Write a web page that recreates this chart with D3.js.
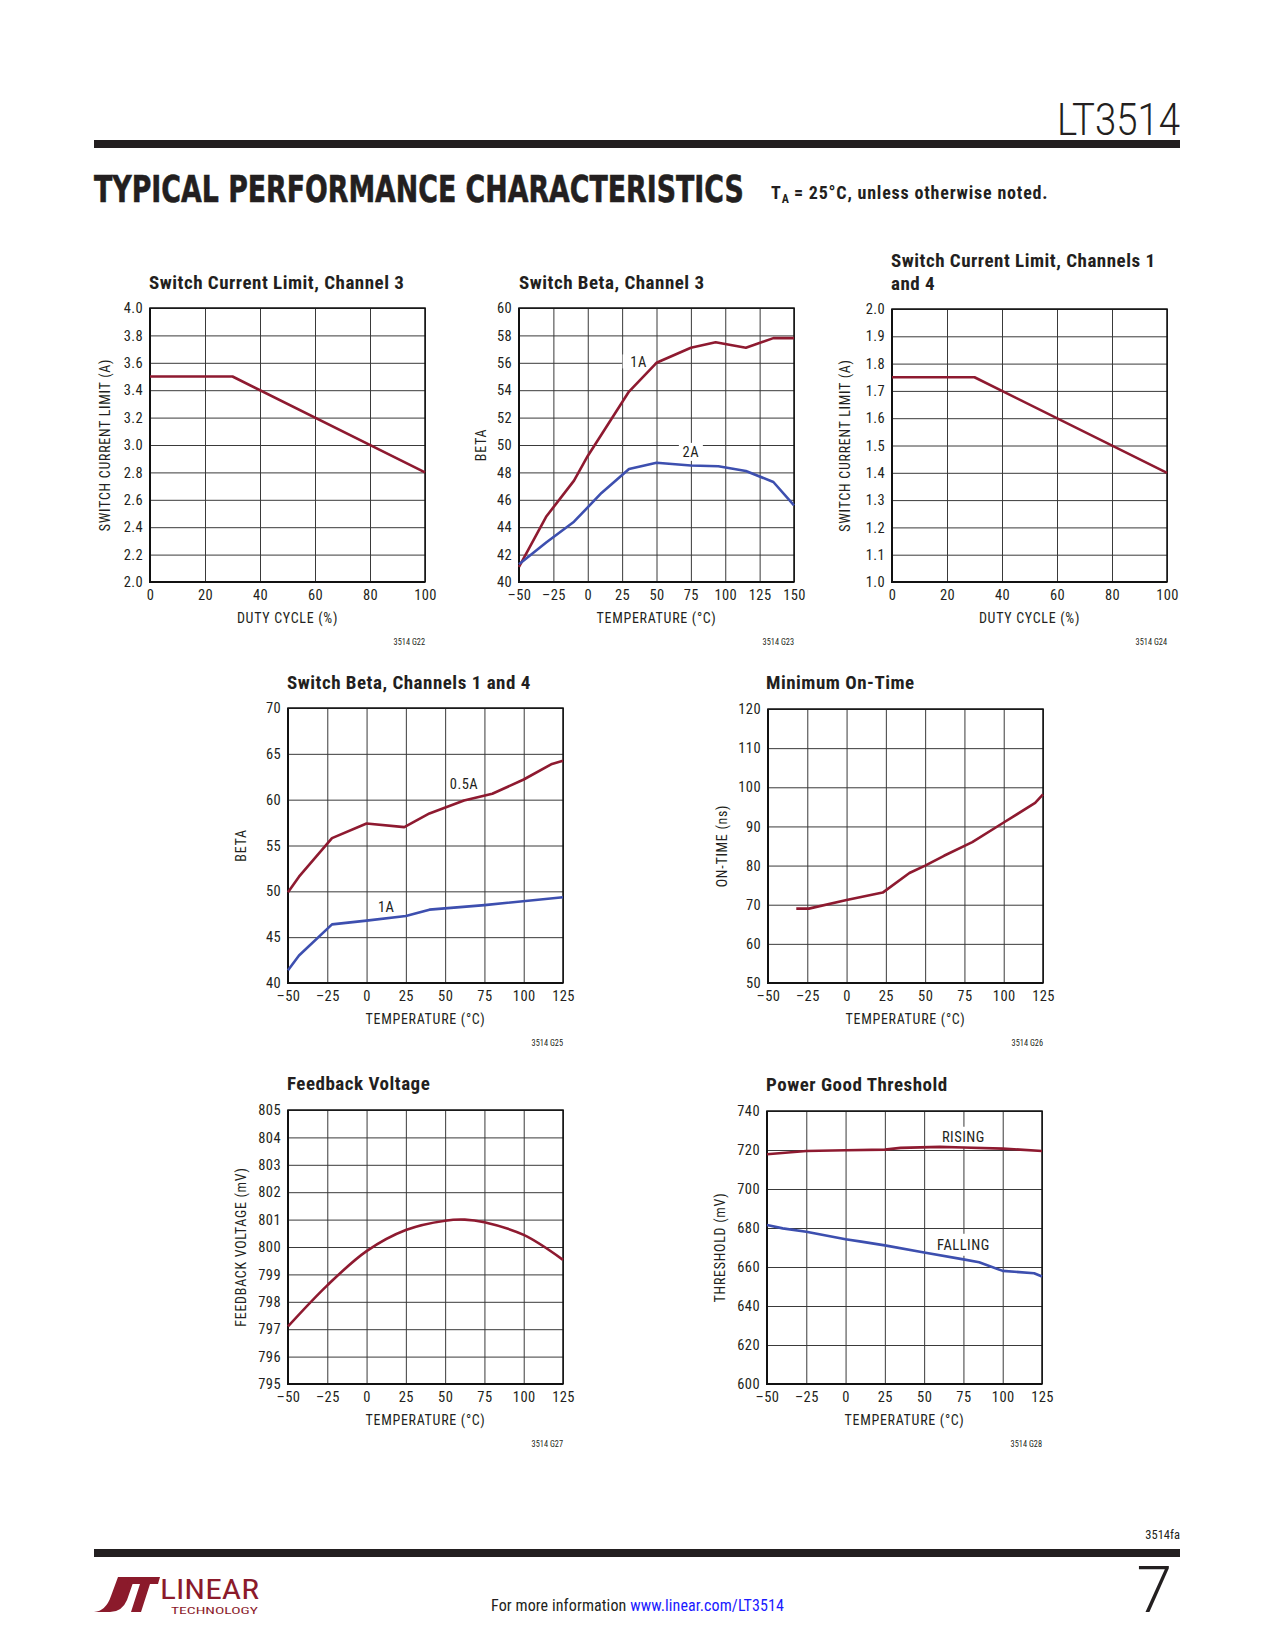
<!DOCTYPE html>
<html><head><meta charset="utf-8">
<script src="https://cdn.jsdelivr.net/npm/d3@7"></script>
<style>
body{margin:0;background:#fff;}
svg{display:block;}
</style></head><body>
<svg id="page" width="1275" height="1650"></svg>
<script>
// ---------------- DATA ----------------
const dutyTicks = [0, 20, 40, 60, 80, 100];
const tempTicksTo150 = [-50, -25, 0, 25, 50, 75, 100, 125, 150];
const tempTicks = [-50, -25, 0, 25, 50, 75, 100, 125];

const ch3LimitTicks = [2.0, 2.2, 2.4, 2.6, 2.8, 3.0, 3.2, 3.4, 3.6, 3.8, 4.0];
const ch3LimitDuty = [0, 30, 100];
const ch3LimitAmps = [3.5, 3.5, 2.8];

const ch3BetaTicks = [40, 42, 44, 46, 48, 50, 52, 54, 56, 58, 60];
const ch3Beta1ATemp = [-50, -30, -10, 0, 30, 50, 75, 93, 115, 135, 150];
const ch3Beta1A = [41.1, 44.8, 47.4, 49.2, 53.9, 56.0, 57.1, 57.5, 57.1, 57.8, 57.8];
const ch3Beta2ATemp = [-50, -30, -10, 10, 30, 50, 75, 95, 115, 135, 150];
const ch3Beta2A = [41.3, 42.9, 44.4, 46.5, 48.25, 48.7, 48.5, 48.45, 48.1, 47.3, 45.6];

const ch14LimitTicks = [1.0, 1.1, 1.2, 1.3, 1.4, 1.5, 1.6, 1.7, 1.8, 1.9, 2.0];
const ch14LimitDuty = [0, 30, 100];
const ch14LimitAmps = [1.75, 1.75, 1.4];

const ch14BetaTicks = [40, 45, 50, 55, 60, 65, 70];
const ch14Beta05ATemp = [-50, -43, -22, 0, 24, 40, 62, 80, 100, 118, 125];
const ch14Beta05A = [49.9, 51.6, 55.8, 57.4, 57.0, 58.5, 59.9, 60.65, 62.2, 63.9, 64.25];
const ch14Beta1ATemp = [-50, -43, -22, 0, 25, 40, 75, 125];
const ch14Beta1A = [41.4, 43.0, 46.4, 46.8, 47.3, 48.0, 48.5, 49.35];

const onTimeTicks = [50, 60, 70, 80, 90, 100, 110, 120];
const onTimeTemp = [-32, -24, 0, 23, 40, 50, 62, 80, 100, 120, 125];
const onTimeNs = [69, 69, 71.2, 73.1, 78.1, 80, 82.5, 86, 91, 96, 98.2];

const fbTicks = [795, 796, 797, 798, 799, 800, 801, 802, 803, 804, 805];
const fbTemp = [-50, -25, 0, 25, 50, 62.5, 75, 100, 125];
const fbMv = [797.1, 798.6, 799.85, 800.62, 800.96, 801.0, 800.9, 800.44, 799.53];

const pgTicks = [600, 620, 640, 660, 680, 700, 720, 740];
const pgRisingTemp = [-50, -25, 0, 25, 35, 60, 75, 100, 125];
const pgRisingMv = [717.8, 719.5, 719.9, 720.2, 721.1, 721.6, 721.3, 720.7, 719.5];
const pgFallingTemp = [-50, -40, -25, 0, 10, 25, 50, 75, 85, 100, 120, 125];
const pgFallingMv = [681.5, 679.8, 678.1, 674.2, 673, 671.1, 667.4, 663.9, 662.4, 658, 656.8, 655.1];

// ---------------- STYLE ----------------
const NARROW = "'Liberation Sans Narrow','Arial Narrow','Roboto Condensed','DejaVu Sans Condensed',sans-serif";
const RED = "#8e1a30";
const BLUE = "#3d4faf";
const GRID = "#3a3a3a";
const TXT = "#231f20";

const svg = d3.select("#page");
const dash = v => String(v).replace("-", "\u2013");

function drawChart(c) {
  const g = svg.append("g");
  const x = d3.scaleLinear().domain(c.xDomain).range([c.x0, c.x0 + c.w]);
  const y = d3.scaleLinear().domain(c.yDomain).range([c.y0 + c.h, c.y0]);

  // grid
  g.append("g").attr("transform", `translate(0,${c.y0 + c.h})`)
    .call(d3.axisBottom(x).tickValues(c.xTicks).tickSize(-c.h).tickFormat(""))
    .call(s => s.select(".domain").remove())
    .call(s => s.selectAll("line").attr("stroke", GRID).attr("stroke-width", 1));
  g.append("g").attr("transform", `translate(${c.x0},0)`)
    .call(d3.axisLeft(y).tickValues(c.yTicks).tickSize(-c.w).tickFormat(""))
    .call(s => s.select(".domain").remove())
    .call(s => s.selectAll("line").attr("stroke", GRID).attr("stroke-width", 1));

  // label boxes (white) drawn over grid
  (c.labels || []).forEach(l => {
    if (l.box) {
      g.append("rect")
        .attr("x", x(l.x) - l.bw / 2).attr("y", y(l.y) - l.bh / 2)
        .attr("width", l.bw).attr("height", l.bh).attr("fill", "#fff");
    }
  });

  // frame
  g.append("rect").attr("x", c.x0).attr("y", c.y0).attr("width", c.w).attr("height", c.h)
    .attr("fill", "none").attr("stroke", "#111").attr("stroke-width", 1.5);
  g.append("path").attr("d", `M${c.x0},${c.y0}V${c.y0 + c.h}H${c.x0 + c.w}`)
    .attr("fill", "none").attr("stroke", "#111").attr("stroke-width", 2);

  // tick labels
  const ax = g.append("g").attr("transform", `translate(0,${c.y0 + c.h})`)
    .call(d3.axisBottom(x).tickValues(c.xTicks).tickSize(0).tickPadding(8).tickFormat(c.xFmt || dash));
  const ay = g.append("g").attr("transform", `translate(${c.x0},0)`)
    .call(d3.axisLeft(y).tickValues(c.yTicks).tickSize(0).tickPadding(7).tickFormat(c.yFmt || dash));
  [ax, ay].forEach(a => {
    a.select(".domain").remove();
    a.selectAll("text").attr("font-family", NARROW).attr("font-size", 14.5)
      .attr("letter-spacing", 0.4).attr("fill", TXT);
  });

  // series
  c.series.forEach(s => {
    const pts = s.xs.map((v, i) => [v, s.ys[i]]);
    g.append("path").datum(pts)
      .attr("d", d3.line().x(d => x(d[0])).y(d => y(d[1])).curve(s.curve || d3.curveLinear))
      .attr("fill", "none").attr("stroke", s.color).attr("stroke-width", 2.6)
      .attr("stroke-linejoin", "round").attr("stroke-linecap", "butt");
  });

  // series labels
  (c.labels || []).forEach(l => {
    g.append("text").attr("x", x(l.x)).attr("y", y(l.y)).attr("dy", "0.35em")
      .attr("text-anchor", "middle").attr("font-family", NARROW).attr("font-size", 14.5)
      .attr("letter-spacing", 0.5).attr("fill", TXT).text(l.text);
  });

  // title
  c.title.forEach((line, i) => g.append("text").attr("x", c.titleX).attr("y", c.titleY + i * 22.5)
    .attr("font-family", NARROW).attr("font-weight", "bold").attr("font-size", 19)
    .attr("letter-spacing", 0.5).attr("fill", TXT).text(line));

  // axis titles
  g.append("text").attr("x", c.x0 + c.w / 2).attr("y", c.y0 + c.h + 41)
    .attr("text-anchor", "middle").attr("font-family", NARROW).attr("font-size", 14)
    .attr("letter-spacing", 0.7).attr("fill", TXT).text(c.xLabel);
  g.append("text").attr("transform", `translate(${c.yLabelX},${c.y0 + c.h / 2}) rotate(-90)`)
    .attr("text-anchor", "middle").attr("font-family", NARROW).attr("font-size", 14)
    .attr("letter-spacing", 0.7).attr("fill", TXT).text(c.yLabel);

  // figure id
  g.append("text").attr("x", c.x0 + c.w).attr("y", c.y0 + c.h + 63)
    .attr("text-anchor", "end").attr("font-family", NARROW).attr("font-size", 8.3)
    .attr("fill", TXT).text(c.id);
}

const fmt1 = d => d3.format(".1f")(d);

drawChart({
  x0: 150, y0: 308, w: 275, h: 274, xDomain: [0, 100], yDomain: [2, 4],
  xTicks: dutyTicks, yTicks: ch3LimitTicks, yFmt: fmt1,
  title: ["Switch Current Limit, Channel 3"], titleX: 149, titleY: 289,
  xLabel: "DUTY CYCLE (%)", yLabel: "SWITCH CURRENT LIMIT (A)", yLabelX: 110, id: "3514 G22",
  series: [{ xs: ch3LimitDuty, ys: ch3LimitAmps, color: RED }]
});

drawChart({
  x0: 519, y0: 308, w: 275, h: 274, xDomain: [-50, 150], yDomain: [40, 60],
  xTicks: tempTicksTo150, yTicks: ch3BetaTicks,
  title: ["Switch Beta, Channel 3"], titleX: 519, titleY: 289,
  xLabel: "TEMPERATURE (°C)", yLabel: "BETA", yLabelX: 486, id: "3514 G23",
  series: [
    { xs: ch3Beta1ATemp, ys: ch3Beta1A, color: RED },
    { xs: ch3Beta2ATemp, ys: ch3Beta2A, color: BLUE }
  ],
  labels: [
    { text: "1A", x: 37, y: 56.1, box: true, bw: 32, bh: 14 },
    { text: "2A", x: 75, y: 49.5, box: true, bw: 24, bh: 18 }
  ]
});

drawChart({
  x0: 892, y0: 309, w: 275, h: 273, xDomain: [0, 100], yDomain: [1, 2],
  xTicks: dutyTicks, yTicks: ch14LimitTicks, yFmt: fmt1,
  title: ["Switch Current Limit, Channels 1", "and 4"], titleX: 891, titleY: 267,
  xLabel: "DUTY CYCLE (%)", yLabel: "SWITCH CURRENT LIMIT (A)", yLabelX: 850, id: "3514 G24",
  series: [{ xs: ch14LimitDuty, ys: ch14LimitAmps, color: RED }]
});

drawChart({
  x0: 288, y0: 708, w: 275, h: 275, xDomain: [-50, 125], yDomain: [40, 70],
  xTicks: tempTicks, yTicks: ch14BetaTicks,
  title: ["Switch Beta, Channels 1 and 4"], titleX: 287, titleY: 689,
  xLabel: "TEMPERATURE (°C)", yLabel: "BETA", yLabelX: 246, id: "3514 G25",
  series: [
    { xs: ch14Beta05ATemp, ys: ch14Beta05A, color: RED },
    { xs: ch14Beta1ATemp, ys: ch14Beta1A, color: BLUE }
  ],
  labels: [
    { text: "0.5A", x: 62, y: 61.7 },
    { text: "1A", x: 12.5, y: 48.3 }
  ]
});

drawChart({
  x0: 768, y0: 709, w: 275, h: 274, xDomain: [-50, 125], yDomain: [50, 120],
  xTicks: tempTicks, yTicks: onTimeTicks,
  title: ["Minimum On-Time"], titleX: 766, titleY: 689,
  xLabel: "TEMPERATURE (°C)", yLabel: "ON-TIME (ns)", yLabelX: 727, id: "3514 G26",
  series: [{ xs: onTimeTemp, ys: onTimeNs, color: RED }]
});

drawChart({
  x0: 288, y0: 1110, w: 275, h: 274, xDomain: [-50, 125], yDomain: [795, 805],
  xTicks: tempTicks, yTicks: fbTicks,
  title: ["Feedback Voltage"], titleX: 287, titleY: 1090,
  xLabel: "TEMPERATURE (°C)", yLabel: "FEEDBACK VOLTAGE (mV)", yLabelX: 246, id: "3514 G27",
  series: [{ xs: fbTemp, ys: fbMv, color: RED, curve: d3.curveCatmullRom }]
});

drawChart({
  x0: 767, y0: 1111, w: 275, h: 273, xDomain: [-50, 125], yDomain: [600, 740],
  xTicks: tempTicks, yTicks: pgTicks,
  title: ["Power Good Threshold"], titleX: 766, titleY: 1091,
  xLabel: "TEMPERATURE (°C)", yLabel: "THRESHOLD (mV)", yLabelX: 725, id: "3514 G28",
  series: [
    { xs: pgRisingTemp, ys: pgRisingMv, color: RED },
    { xs: pgFallingTemp, ys: pgFallingMv, color: BLUE }
  ],
  labels: [
    { text: "RISING", x: 75, y: 726.8, box: true, bw: 52, bh: 20 },
    { text: "FALLING", x: 75, y: 671.4, box: true, bw: 60, bh: 22 }
  ]
});

// ---------------- PAGE HEADER ----------------
svg.append("text").attr("x", 1180).attr("y", 135).attr("text-anchor", "end")
  .attr("font-family", "Roboto,sans-serif").attr("font-weight", 300).attr("font-size", 44)
  .attr("textLength", 123).attr("lengthAdjust", "spacingAndGlyphs").attr("fill", TXT).text("LT3514");
svg.append("rect").attr("x", 94).attr("y", 140).attr("width", 1086).attr("height", 8).attr("fill", TXT);

// heading: condensed by a horizontal scale so its real box ends at x=744
const head = svg.append("text").attr("x", 0).attr("y", 0)
  .attr("font-family", "'DejaVu Sans',sans-serif").attr("font-weight", "bold").attr("font-size", 37)
  .attr("fill", TXT).attr("stroke", TXT).attr("stroke-width", 0.6)
  .text("TYPICAL PERFORMANCE CHARACTERISTICS");
const headW = head.node().getComputedTextLength();
head.attr("transform", `translate(94,202) scale(${650 / headW},1)`);

// T_A note as separate, non-overlapping text pieces
const tT = svg.append("text").attr("x", 771).attr("y", 199)
  .attr("font-family", NARROW).attr("font-weight", "bold").attr("font-size", 18)
  .attr("fill", TXT).text("T");
const wT = tT.node().getComputedTextLength();
const tA = svg.append("text").attr("x", 771 + wT + 1).attr("y", 203)
  .attr("font-family", NARROW).attr("font-weight", "bold").attr("font-size", 12)
  .attr("fill", TXT).text("A");
const wA = tA.node().getComputedTextLength();
svg.append("text").attr("x", 771 + wT + wA + 6).attr("y", 199)
  .attr("font-family", NARROW).attr("font-weight", "bold").attr("font-size", 18)
  .attr("letter-spacing", 0.8).attr("fill", TXT).text("= 25°C, unless otherwise noted.");

// ---------------- PAGE FOOTER ----------------
svg.append("text").attr("x", 1180).attr("y", 1539).attr("text-anchor", "end")
  .attr("font-family", NARROW).attr("font-size", 12.5).attr("fill", TXT).text("3514fa");
svg.append("rect").attr("x", 94).attr("y", 1549).attr("width", 1086).attr("height", 8).attr("fill", TXT);
svg.append("text").attr("x", 1172).attr("y", 1612).attr("text-anchor", "end")
  .attr("font-family", "Roboto,sans-serif").attr("font-weight", 300).attr("font-size", 64)
  .attr("fill", TXT).text("7");
const fm = svg.append("text").attr("x", 491).attr("y", 1611)
  .attr("font-family", NARROW).attr("font-size", 16).attr("letter-spacing", 0.1).attr("fill", TXT);
fm.append("tspan").text("For more information ");
fm.append("tspan").attr("fill", "#1a1aff").text("www.linear.com/LT3514");

// logo
const LOGO = "#8b1a2b";
svg.append("path").attr("fill", LOGO)
  .attr("d", "M94,1612 Q106,1611 111,1596 L118,1577 L135,1577 L127,1600 Q122,1612 110,1612 Z");
svg.append("path").attr("fill", LOGO)
  .attr("d", "M129,1577 L160,1577 L158,1584 L150,1584 L141,1612 L131,1612 L140,1584 L127,1584 Z");
svg.append("text").attr("x", 160).attr("y", 1599).attr("font-family", NARROW).attr("font-size", 27)
  .attr("textLength", 99).attr("lengthAdjust", "spacingAndGlyphs").attr("fill", LOGO).text("LINEAR");
svg.append("text").attr("x", 171).attr("y", 1614).attr("font-family", NARROW).attr("font-size", 9.5)
  .attr("textLength", 87).attr("lengthAdjust", "spacingAndGlyphs").attr("fill", LOGO).text("TECHNOLOGY");
</script>
</body></html>
